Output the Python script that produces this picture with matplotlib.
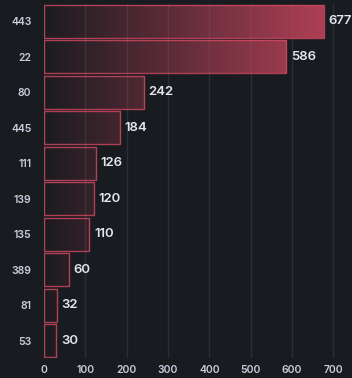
import numpy as np
import matplotlib
matplotlib.use("Agg")
import matplotlib.pyplot as plt
from matplotlib.colors import to_rgb

# port counts
ports = ['443', '22', '80', '445', '111', '139', '135', '389', '81', '53']
counts = [677, 586, 242, 184, 126, 120, 110, 60, 32, 30]

bg = '#181b1f'
red = '#d44a63'
txt = '#ccccdc'

plt.rcParams['font.family'] = ['Inter', 'DejaVu Sans']

fig = plt.figure(figsize=(3.52, 3.78), dpi=100, facecolor=bg)
ax = fig.add_axes([44 / 352, 1 - 358.4 / 378, 306 / 352, 354.8 / 378])
ax.set_facecolor(bg)

y = np.arange(len(ports))
h = 0.92
vmax = max(counts)
rgb = np.array(to_rgb(red))

ax.set_xlim(0, 740)
ax.set_ylim(len(ports) - 0.5, -0.5)

# gradient fill, alpha grows with x
for yi, v in zip(y, counts):
    n = max(int(v), 2)
    xs = np.linspace(0, v, n) / vmax
    img = np.zeros((1, n, 4))
    img[0, :, :3] = rgb * 0.95
    img[0, :, 3] = 0.02 + 0.83 * xs
    ax.imshow(img, extent=(0, v, yi + h / 2, yi - h / 2), aspect='auto',
              interpolation='bilinear', zorder=2)

ax.barh(y, counts, height=h, fill=False, edgecolor=red, linewidth=1.0,
        alpha=0.8, zorder=3)

for yi, v in zip(y, counts):
    ax.text(v + 11, yi, str(v), color='#e6e6ee', fontsize=9.5,
            fontweight='semibold', va='center', ha='left', zorder=4,
            clip_on=False)

ax.set_xticks(range(0, 800, 100))
ax.set_yticks(y)
ax.set_yticklabels(ports)
ax.grid(axis='x', color='#2b2e34', linewidth=1, zorder=0)
ax.set_axisbelow(True)
ax.tick_params(axis='both', length=0, colors=txt, labelsize=7.5)
ax.tick_params(axis='y', pad=9)
ax.tick_params(axis='x', pad=5)
for lab in ax.get_xticklabels() + ax.get_yticklabels():
    lab.set_fontweight('semibold')
for s in ax.spines.values():
    s.set_visible(False)

fig.savefig('out.png', dpi=100, facecolor=bg)
